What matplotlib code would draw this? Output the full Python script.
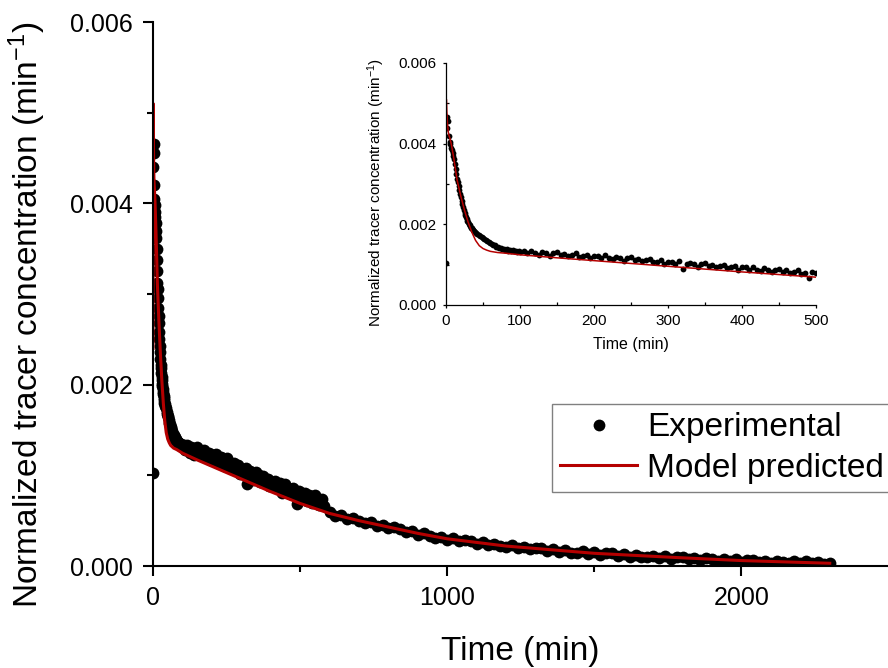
import numpy as np
import matplotlib
matplotlib.use("Agg")
import matplotlib.pyplot as plt
from matplotlib.ticker import MultipleLocator

plt.rcParams['font.family'] = ['Liberation Sans', 'DejaVu Sans']
plt.rcParams['mathtext.default'] = 'regular'

exp_t1 = np.arange(0, 41, 1)
exp_c1 = [1.03, 4.40, 4.65, 4.55, 4.20, 4.05, 3.98, 3.90, 3.85, 3.78,
          3.70, 3.62, 3.50, 3.38, 3.25, 3.12, 3.05, 2.96, 2.85, 2.76,
          2.68, 2.58, 2.50, 2.43, 2.36, 2.28, 2.22, 2.18, 2.13, 2.08,
          2.05, 2.01, 1.98, 1.95, 1.92, 1.90, 1.87, 1.85, 1.83, 1.80, 1.79]

exp_t2 = np.arange(42, 101, 2)
exp_c2 = [1.76, 1.74, 1.70, 1.68, 1.65, 1.64, 1.61, 1.58, 1.57, 1.53,
          1.52, 1.49, 1.48, 1.45, 1.44, 1.41, 1.42, 1.39, 1.40, 1.37,
          1.38, 1.35, 1.37, 1.34, 1.36, 1.33, 1.35, 1.32, 1.34, 1.31]

exp_t3 = np.arange(105, 581, 5)
exp_c3 = [1.33, 1.28, 1.34, 1.29, 1.25, 1.31, 1.28, 1.22, 1.28, 1.31,
          1.24, 1.27, 1.21, 1.24, 1.28, 1.20, 1.22, 1.25, 1.17, 1.22,
          1.22, 1.17, 1.23, 1.17, 1.14, 1.20, 1.16, 1.10, 1.16, 1.19,
          1.11, 1.14, 1.08, 1.11, 1.14, 1.06, 1.07, 1.11, 1.02, 1.07,
          1.07, 1.02, 1.08, 0.90, 1.02, 1.05, 1.01, 0.95, 1.01, 1.04,
          0.96, 1.00, 0.93, 0.96, 0.99, 0.92, 0.93, 0.96, 0.88, 0.93,
          0.93, 0.88, 0.94, 0.88, 0.85, 0.91, 0.87, 0.81, 0.87, 0.90,
          0.82, 0.86, 0.79, 0.83, 0.86, 0.78, 0.80, 0.68, 0.83, 0.80,
          0.80, 0.75, 0.81, 0.76, 0.72, 0.78, 0.75, 0.69, 0.75, 0.78,
          0.70, 0.74, 0.67, 0.71, 0.74, 0.66]

exp_t4 = np.arange(600, 2301, 20)
exp_c4 = [.595, .550, .560, .518, .530, .500, .472, .485, .445, .456,
          .415, .430, .412, .375, .385, .345, .360, .330, .312, .322,
          .285, .305, .272, .288, .280, .248, .262, .232, .248, .218,
          .210, .228, .196, .215, .182, .200, .195, .165, .182, .152,
          .175, .148, .140, .160, .130, .152, .122, .140, .138, .112,
          .132, .104, .124, .100, .095, .112, .085, .110, .080, .100,
          .102, .075, .092, .068, .090, .075, .060, .080, .055, .075,
          .048, .070, .062, .042, .060, .038, .060, .048, .035, .052,
          .030, .050, .032, .045, .025, .032]

# model prediction
model_t = [0, 0.5, 1, 2, 3, 4, 5, 7, 10, 15, 20, 25, 30, 35, 40, 45, 50, 55,
           60, 70, 80, 100, 150, 200, 300, 400, 500, 600, 700, 800, 900, 1000,
           1200, 1500, 1800, 2000, 2300]
model_c = [2.4, 5.1, 4.8, 4.5, 4.3, 4.2, 4.15, 4.0, 3.7, 3.1, 2.7, 2.35, 2.05,
           1.8, 1.6, 1.47, 1.40, 1.36, 1.33, 1.30, 1.285, 1.245, 1.17, 1.10,
           0.96, 0.82, 0.69, 0.58, 0.50, 0.43, 0.36, 0.30, 0.22, 0.14, 0.09,
           0.06, 0.03]

exp_t = np.concatenate([exp_t1, exp_t2, exp_t3, exp_t4])
exp_c = np.concatenate([exp_c1, exp_c2, exp_c3, exp_c4]) * 1e-3
model_t = np.array(model_t)
model_c = np.array(model_c) * 1e-3

red = '#B50000'

fig = plt.figure(figsize=(8.88, 6.68), dpi=100)

# main plot
ax = fig.add_axes([153 / 888, 102 / 668, 735 / 888, 544 / 668])
l1, = ax.plot(exp_t, exp_c, 'o', color='black', ms=8.5, mew=0, label='Experimental')
l2, = ax.plot(model_t, model_c, '-', color=red, lw=2.2, label='Model predicted')
ax.set_xlim(0, 2498)
ax.set_ylim(0, 0.006)
ax.xaxis.set_major_locator(MultipleLocator(1000))
ax.xaxis.set_minor_locator(MultipleLocator(500))
ax.yaxis.set_major_locator(MultipleLocator(0.002))
ax.yaxis.set_minor_locator(MultipleLocator(0.001))
ax.yaxis.set_major_formatter(lambda v, p: f'{v:.3f}')
ax.spines['top'].set_visible(False)
ax.spines['right'].set_visible(False)
for s in ['left', 'bottom']:
    ax.spines[s].set_linewidth(1.5)
ax.tick_params(which='major', direction='out', length=7.5, width=1.5, labelsize=18, pad=7)
ax.tick_params(which='minor', direction='out', length=4.5, width=1.5)
ax.set_xlabel('Time (min)', fontsize=24)
ax.set_ylabel('Normalized tracer concentration (min$^{-1}$)', fontsize=24)
ax.xaxis.set_label_coords(520 / 888, 1 - 636 / 668, transform=fig.transFigure)
ax.yaxis.set_label_coords(48 / 888, 1 - 315 / 668, transform=fig.transFigure)

leg = ax.legend(handles=[l1, l2], loc='upper left', bbox_to_anchor=(552 / 888, 1 - 404 / 668),
                bbox_transform=fig.transFigure, borderaxespad=0, fontsize=24,
                numpoints=1, handlelength=2.3, handletextpad=0.3, labelspacing=0.28,
                borderpad=0.25, fancybox=False, framealpha=1)
leg.get_frame().set_edgecolor('#808080')
leg.get_frame().set_linewidth(1.0)

# inset
ins = fig.add_axes([446 / 888, 1 - 305 / 668, 370 / 888, 242 / 668])
m = exp_t <= 500
ins.plot(exp_t[m], exp_c[m], 'o', color='black', ms=4.2, mew=0)
mm = model_t <= 500
ins.plot(model_t[mm], model_c[mm], '-', color=red, lw=1.1)
ins.set_xlim(0, 500)
ins.set_ylim(0, 0.006)
ins.xaxis.set_major_locator(MultipleLocator(100))
ins.xaxis.set_minor_locator(MultipleLocator(50))
ins.yaxis.set_major_locator(MultipleLocator(0.002))
ins.yaxis.set_minor_locator(MultipleLocator(0.001))
ins.yaxis.set_major_formatter(lambda v, p: f'{v:.3f}')
ins.spines['top'].set_visible(False)
ins.spines['right'].set_visible(False)
for s in ['left', 'bottom']:
    ins.spines[s].set_linewidth(0.9)
ins.tick_params(which='major', direction='out', length=2.5, width=0.9, labelsize=11, pad=4)
ins.tick_params(which='minor', direction='in', length=2.5, width=0.9)
ins.set_xlabel('Time (min)', fontsize=11.5)
ins.set_ylabel('Normalized tracer concentration (min$^{-1}$)', fontsize=11)
ins.xaxis.set_label_coords(631 / 888, 1 - 337 / 668, transform=fig.transFigure)
ins.yaxis.set_label_coords(387 / 888, 1 - 193 / 668, transform=fig.transFigure)

fig.savefig('out.png', dpi=100)
